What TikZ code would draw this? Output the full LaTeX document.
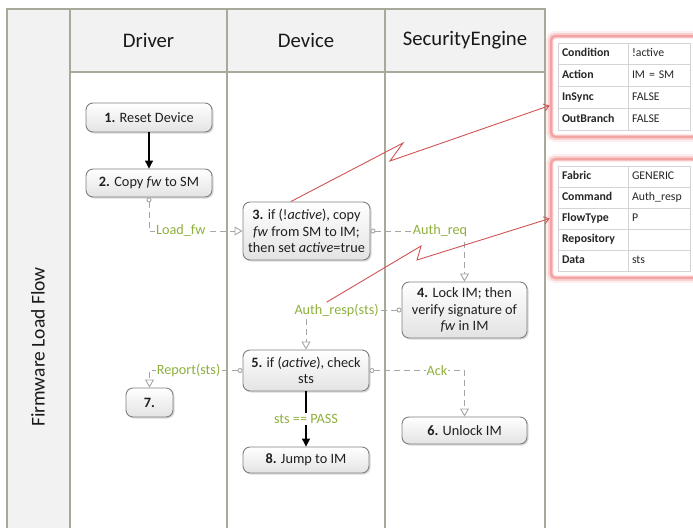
\documentclass[tikz,border=0pt]{standalone}
\usepackage{fontspec}
\setmainfont{Carlito}
\usetikzlibrary{arrows.meta,shadows,calc,matrix}

\definecolor{laneline}{HTML}{A9A99B}
\definecolor{headfill}{HTML}{F2F2F2}
\definecolor{boxline}{HTML}{7F7F7F}
\definecolor{msggreen}{HTML}{8FB03E}
\definecolor{msgline}{HTML}{A6A6A6}
\definecolor{linkred}{HTML}{D05353}
\definecolor{glowred}{HTML}{F07C7C}
\definecolor{cellline}{HTML}{D4D4D4}

\begin{document}
\begin{tikzpicture}[x=1pt,y=-1pt,
  lane/.style={draw=laneline, line width=1.3pt},
  headtext/.style={font=\fontsize{20.7}{23}\selectfont, text=black!90},
  stepbox/.style={draw=boxline, line width=0.9pt, rounded corners=7pt,
    top color=white, bottom color=black!11,
    drop shadow={shadow xshift=1.5pt,shadow yshift=-1.5pt,opacity=0.3},
    font=\fontsize{14.3}{16.2}\selectfont, text=black!88, align=center, inner sep=1pt},
  flow/.style={draw=black, line width=1.1pt, -{Triangle[length=8pt,width=8pt]}},
  msg/.style={draw=msgline, line width=0.9pt, dash pattern=on 6pt off 4pt,
    {Circle[open,length=5pt,width=5pt,fill=white]}-{Triangle[open,length=8pt,width=9pt,fill=white]}},
  msglabel/.style={fill=white, text=msggreen, font=\fontsize{14.2}{16}\selectfont, inner sep=1pt},
  redlink/.style={draw=linkred, line width=0.9pt, -{Straight Barb[length=5pt,width=7pt]}},
  tablecells/.style={matrix of nodes, nodes in empty cells,
    column sep=-0.6pt, row sep=-0.6pt,
    nodes={draw=cellline, line width=0.6pt, fill=white, minimum height=#1,
      text height=8.5pt, text depth=2.5pt, inner xsep=4pt, align=left,
      text=black!85, font=\fontsize{11.8}{13}\selectfont},
    column 1/.style={nodes={text width=62pt, font=\fontsize{11.8}{13}\selectfont\bfseries}},
    column 2/.style={nodes={text width=54pt}}},
  glow/.style={draw=glowred, rounded corners=4pt}
]
\useasboundingbox (0,0) rectangle (693,528);

% pool background and lane grid
\fill[headfill] (7,9) rectangle (70,528);
\fill[headfill] (70,9) rectangle (545,72);
\draw[lane] (7,528) -- (7,9) -- (545,9) -- (545,528);
\draw[lane] (70,9) -- (70,528);
\draw[lane] (227,9) -- (227,528);
\draw[lane] (385,9) -- (385,528);
\draw[lane] (70,72) -- (545,72);

% lane headers
\node[headtext] (hdrDriver) at (148.5,40.5) {Driver};
\node[headtext] (hdrDevice) at (306,40.5) {Device};
\node[headtext] (hdrEngine) at (465,40.5) {SecurityEngine};
\node[headtext, font=\fontsize{19.5}{22}\selectfont, rotate=90] (poolname) at (38,347) {Firmware Load Flow};

% steps
\node[stepbox, minimum width=126pt, minimum height=29pt] (s1) at (149,117.5) {\textbf{1.} Reset Device};
\node[stepbox, minimum width=126pt, minimum height=28pt] (s2) at (149,183) {\textbf{2.} Copy \emph{fw} to SM};
\node[stepbox, minimum width=127pt, minimum height=58pt] (s3) at (306.5,231)
  {\textbf{3.} if (!\emph{active}), copy\\\emph{fw} from SM to IM;\\then set \emph{active}=true};
\node[stepbox, minimum width=125pt, minimum height=56pt] (s4) at (464.5,310)
  {\textbf{4.} Lock IM; then\\verify signature of\\\emph{fw} in IM};
\node[stepbox, minimum width=126pt, minimum height=41pt] (s5) at (306,370.5)
  {\textbf{5.} if (\emph{active}), check\\sts};
\node[stepbox, minimum width=125pt, minimum height=27pt] (s6) at (464.5,430.5) {\textbf{6.} Unlock IM};
\node[stepbox, minimum width=47pt, minimum height=29pt] (s7) at (149.5,402.5) {\textbf{7.}};
\node[stepbox, minimum width=126pt, minimum height=26pt] (s8) at (306,460) {\textbf{8.} Jump to IM};

% control flow
\draw[flow] (s1) -- (s2);
\draw[flow] (s5) -- node[msglabel] {sts == PASS} (s8);

% messages
\draw[msg] (s2.south) |- node[msglabel, pos=0.67] {Load\_fw} (s3.west);
\draw[msg] (s3.east) -| node[msglabel, pos=0.37] {Auth\_req} (s4.north);
\draw[msg] (s4.west) -| node[msglabel, pos=0.34] (lblresp) {Auth\_resp(sts)} (s5.north);
\draw[msg] (s5.west) -| node[msglabel, pos=0.29] {Report(sts)} (s7.north);
\draw[msg] (s5.east) -| node[msglabel, pos=0.355] {Ack} (s6.north);

% attribute tables
\matrix (tabA) [tablecells=21.75pt] at (624,86.5) {
  Condition & !active \\
  Action & IM = SM \\
  InSync & FALSE \\
  OutBranch & FALSE \\
};
\matrix (tabB) [tablecells=21pt] at (624,218.5) {
  Fabric & GENERIC \\
  Command & Auth\_resp \\
  FlowType & P \\
  Repository & \\
  Data & sts \\
};
\foreach \t in {tabA,tabB} {
  \draw[glow, line width=8pt, opacity=0.12] ($(\t.north west)+(-4,-4)$) rectangle ($(\t.south east)+(4,4)$);
  \draw[glow, line width=5pt, opacity=0.25] ($(\t.north west)+(-3.5,-3.5)$) rectangle ($(\t.south east)+(3.5,3.5)$);
  \draw[glow, line width=2.5pt, opacity=0.55] ($(\t.north west)+(-3,-3)$) rectangle ($(\t.south east)+(3,3)$);
}

% links from steps to their attribute tables
\draw[redlink] (s3.118) -- (403,143) -- (390,161) -- ($(tabA-3-1.south west)+(-8,-3)$);
\draw[redlink] ($(lblresp.north)+(-10,0)$) -- (421,246) -- (417,260) -- ($(tabB-3-1.west)+(-8,0)$);
\end{tikzpicture}
\end{document}
